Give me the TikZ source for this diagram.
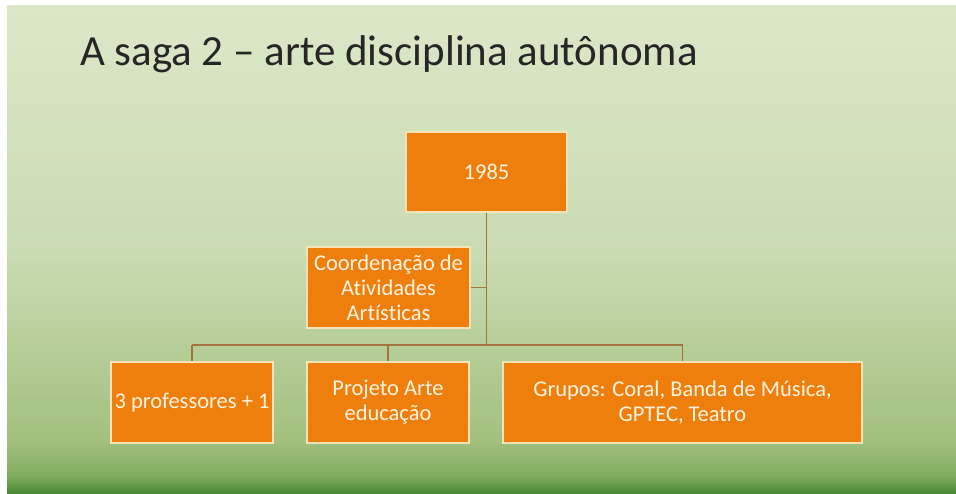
\documentclass[tikz,border=0pt]{standalone}
\usepackage{fontspec}
\setmainfont[RawFeature={-liga}]{Carlito}
\definecolor{bgA}{HTML}{DCE7C8}
\definecolor{bgB}{HTML}{CADCB3}
\definecolor{bgC}{HTML}{A3C07F}
\definecolor{bgD}{HTML}{82AE60}
\definecolor{bgE}{HTML}{4B8A35}
\definecolor{boxfill}{HTML}{EF7F0C}
\definecolor{boxline}{HTML}{F8E2B8}
\definecolor{boxtext}{HTML}{FFF4E2}
\definecolor{linkcol}{HTML}{A5733C}
\definecolor{titlecol}{HTML}{262626}
\tikzset{
  orgbox/.style={draw=boxline, line width=1.5pt, fill=boxfill, text=boxtext,
    inner sep=1pt, align=center, font=\fontsize{22.5}{25}\selectfont},
  link/.style={draw=linkcol, line width=1.4pt}
}
\begin{document}
\begin{tikzpicture}[x=1pt,y=-1pt]
\useasboundingbox (0,0) rectangle (956,493);
\fill[white] (0,0) rectangle (956,493);
% slide background
\shade[top color=bgA, bottom color=bgB] (7,5) rectangle (956,250.5);
\shade[top color=bgB, bottom color=bgC] (7,250) rectangle (956,440.5);
\shade[top color=bgC, bottom color=bgD] (7,440) rectangle (956,475.5);
\shade[top color=bgD, bottom color=bgE] (7,475) rectangle (956,493);
% title
\node[anchor=base west, text=titlecol, font=\fontsize{43}{50}\selectfont, inner sep=0pt] (title) at (80,65) {A saga 2 – arte disciplina autônoma};
% boxes
\node[orgbox, minimum width=161pt, minimum height=80pt] (top) at (486.5,172) {1985};
\node[orgbox, minimum width=163pt, minimum height=81pt] (coord) at (388.5,287.5) {Coordenação de\\Atividades\\Artísticas};
\node[orgbox, minimum width=162pt, minimum height=81pt] (prof) at (192,402.5) {3 professores + 1};
\node[orgbox, minimum width=162pt, minimum height=81pt] (proj) at (388,402.5) {Projeto Arte\\educação};
\node[orgbox, minimum width=359pt, minimum height=81pt] (grp) at (682.5,402.5) {Grupos: Coral, Banda de Música,\\GPTEC, Teatro};
% connectors
\coordinate (bus) at (486.5,345);
\draw[link] (top.south) -- (bus);
\draw[link] (coord.east) -- (coord.east -| top.south);
\draw[link] (prof.north |- bus) -- (grp.north |- bus);
\draw[link] (prof.north |- bus) -- (prof.north);
\draw[link] (proj.north |- bus) -- (proj.north);
\draw[link] (grp.north |- bus) -- (grp.north);
\end{tikzpicture}
\end{document}
